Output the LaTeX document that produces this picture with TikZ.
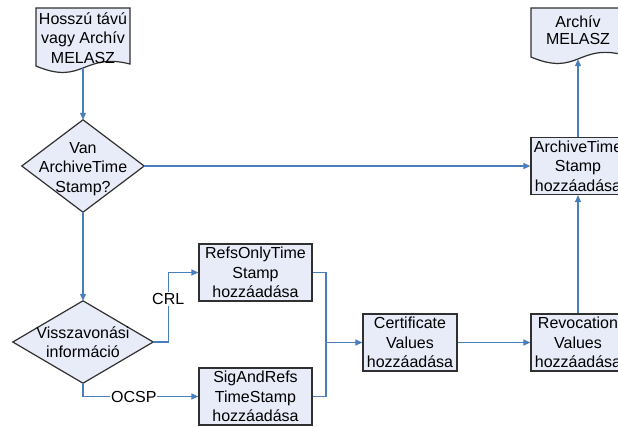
\documentclass[tikz,border=0pt]{standalone}
\usepackage{fontspec}
\setmainfont{Liberation Sans}
\usetikzlibrary{arrows.meta,calc}
\definecolor{shapefill}{HTML}{E8ECF8}
\definecolor{shapeline}{HTML}{303030}
\definecolor{flowline}{HTML}{4A7EBB}
\tikzset{
  base/.style={inner sep=0pt, align=center,
    font=\fontsize{16bp}{19.5bp}\selectfont},
  stepbox/.style={base, rectangle, draw=shapeline, fill=shapefill,
    line width=1.2bp, minimum width=94bp, minimum height=57bp},
  widebox/.style={stepbox, minimum width=113bp},
  textonly/.style={base, rectangle, draw=none},
  outline/.style={draw=shapeline, fill=shapefill, line width=1.2bp},
  flow/.style={draw=flowline, line width=1.2bp},
  arrowflow/.style={flow, -{Triangle[length=7bp,width=6bp]}},
  tag/.style={base, fill=white, inner sep=1bp}
}
\begin{document}
\begin{tikzpicture}[x=1bp,y=-1bp]
\useasboundingbox (0,0) rectangle (618,426);
\clip (0,0) rectangle (618,426);

% document shapes (wavy bottom edge)
\draw[outline] (36,8) -- (130,8) -- (130,64)
  .. controls (83,52) and (83,86) .. (36,66) -- cycle;
\node[textonly, minimum width=94bp, minimum height=60bp] (doc1) at (83,38)
  {Hosszú távú\\vagy Archív\\MELASZ};

\draw[outline] (531,8) -- (624,8) -- (624,55)
  .. controls (578,43) and (578,77) .. (531,57) -- cycle;
\node[textonly, minimum width=94bp, minimum height=51bp] (doc2) at (578,33.5) {};
\node[base, font=\fontsize{16bp}{17bp}\selectfont] at (578,30) {Archív\\MELASZ};

% decisions
\node[textonly, minimum width=122bp, minimum height=92bp] (dia1) at (83,166) {};
\draw[outline] (dia1.north) -- (dia1.east) -- (dia1.south) -- (dia1.west) -- cycle;
\node[base] at ($(dia1.center)+(0,3)$) {Van\\ArchiveTime\\Stamp?};

\node[textonly, minimum width=140bp, minimum height=82bp] (dia2) at (83,342) {};
\draw[outline] (dia2.north) -- (dia2.east) -- (dia2.south) -- (dia2.west) -- cycle;
\node[base] at (dia2.center) {Visszavonási\\információ};

% process steps
\node[stepbox] (ats)  at (578,166)   {ArchiveTime\\Stamp\\hozzáadása};
\node[widebox] (refs) at (255.5,272.5) {RefsOnlyTime\\Stamp\\hozzáadása};
\node[widebox] (sig)  at (255.5,396.5) {SigAndRefs\\TimeStamp\\hozzáadása};
\node[stepbox] (cert) at (410,342.5) {Certificate\\Values\\hozzáadása};
\node[stepbox] (rev)  at (578,342.5) {Revocation\\Values\\hozzáadása};

% connectors
\draw[arrowflow] (doc1.south) -- (dia1.north);
\draw[arrowflow] (dia1.east) -- (ats.west);
\draw[arrowflow] (dia1.south) -- (dia2.north);
\draw[arrowflow] (dia2.east) -- ++(15,0) |- (refs.west)
  node[tag, pos=0.31] {CRL};
\draw[arrowflow] (dia2.south) |- (sig.west)
  node[tag, pos=0.72] {OCSP};
\coordinate (merge) at (326,342.5);
\draw[flow] (refs.east) -| (merge);
\draw[flow] (sig.east) -| (merge);
\draw[arrowflow] (merge) -- (cert.west);
\draw[arrowflow] (cert.east) -- (rev.west);
\draw[arrowflow] (rev.north) -- (ats.south);
\draw[arrowflow] (ats.north) -- (doc2.south);
\end{tikzpicture}
\end{document}
